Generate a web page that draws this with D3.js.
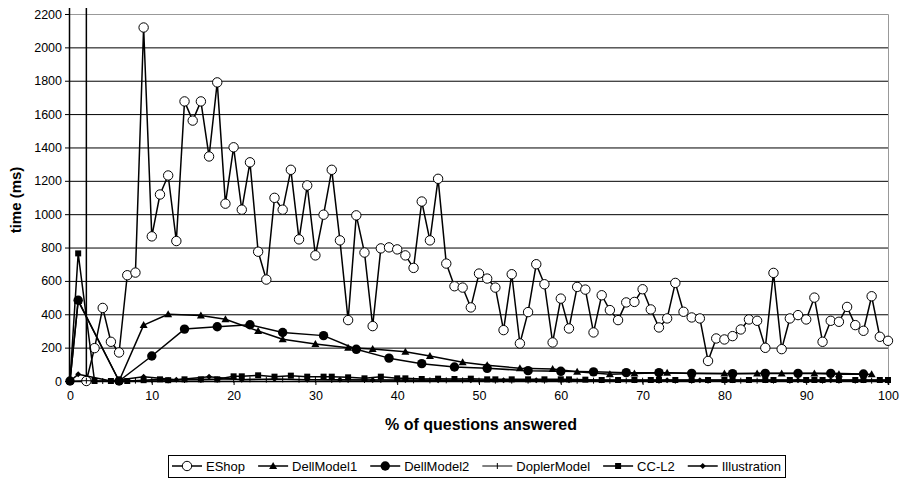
<!DOCTYPE html>
<html lang="en">
<head>
    <meta charset="UTF-8">
    <title>time vs % of questions answered</title>
    <script src="https://d3js.org/d3.v7.min.js"></script>
    <style>
        body { margin: 0; background: #fff; }
        svg { display: block; font-family: "Liberation Sans", Arial, sans-serif; }
        .tick text { font-size: 12.5px; fill: #000; }
        .title { font-weight: bold; fill: #000; }
        .legend text { font-size: 13px; fill: #000; }
    </style>
</head>
<body>
    <svg width="904" height="483"></svg>
    <script>
        // EShop: one point per percent from 2 to 100, plus the spike drawn at x=2
        const eshopX = d3.range(2, 101);
        const eshopVals = [0,197,438,235,171,634,650,2119,867,1118,
            1232,839,1676,1561,1676,1346,1790,1063,1401,1027,
            1311,775,608,1098,1027,1266,849,1172,753,997,
            1266,843,365,993,770,329,795,801,789,753,
            678,1076,843,1212,704,568,560,441,644,614,
            560,305,640,225,413,700,580,231,494,315,
            564,548,291,514,425,365,471,474,550,429,
            321,375,588,415,381,375,120,255,249,269,
            309,369,361,199,648,191,375,395,369,500,
            235,361,355,444,335,301,508,265,241];
        const eshopSpike = [2, 2400];

        const dell1X = [0,1,6,9,12,16,19,23,26,30,34,37,41,44,48,51,55,59,62,66,69,73,76,80,84,87,91,94,98];
        const dell1Vals = [0,480,0,335,400,392,370,300,250,222,199,192,175,150,112,95,76,72,56,40,45,50,45,45,45,45,45,40,40];

        const dell2X = [0,1,6,10,14,18,22,26,31,35,39,43,47,51,56,60,64,68,72,76,81,85,89,93,97];
        const dell2Vals = [0,484,0,150,311,325,337,291,272,190,137,104,84,76,62,58,55,50,50,46,44,46,46,46,42];

        const doplerX = [0,2,4,6,8,10,12,14,16,18,20,22,24,26,28,30,32,34,36,38,40,42,44,46,48,50,
            52,54,56,58,60,62,64,66,68,70,72,74,76,78,80,82,84,86,88,90,92,94,96,98,100];
        const doplerVals = [0,2,0,0,2,4,4,6,6,8,8,10,8,10,8,8,6,6,6,6,4,4,4,4,4,2,
            2,2,2,2,2,2,2,2,2,2,2,2,2,2,2,2,2,2,2,2,2,2,2,2,2];

        const ccX = [0,1,3,5,7,9,11,12,14,16,18,20,21,23,25,27,29,31,32,34,36,38,40,41,43,45,47,49,
            51,52,54,56,58,60,61,63,65,67,69,71,72,74,76,78,80,81,83,85,86,88,90,91,92,94,96,97,99,100];
        const ccVals = [0,765,0,0,0,5,10,5,10,10,10,28,28,34,26,32,26,26,26,22,16,26,16,16,12,14,12,14,
            10,10,10,10,10,10,10,8,6,6,6,6,6,6,6,6,6,6,6,6,6,6,6,6,6,6,6,6,6,6];

        const illX = [0,1,5,9,13,17,21,25,29,33,37,41,45,49,53,57,61,65,69,73,77,81,85,89,93,97,100];
        const illVals = [0,40,0,26,8,26,8,12,8,8,6,6,4,4,4,4,4,4,4,4,4,4,4,4,4,4,4];

        const yTicks = d3.range(0, 2201, 200);
        const xTicks = d3.range(0, 101, 10);

        const svg = d3.select("svg");
        const x = d3.scaleLinear().domain([0, 100]).range([70, 888]);
        const y = d3.scaleLinear().domain([0, 2200]).range([381, 14]);

        // grid lines
        svg.append("g")
            .selectAll("line")
            .data(yTicks.slice(1, -1))
            .enter().append("line")
            .attr("x1", x(0)).attr("x2", x(100))
            .attr("y1", d => y(d) + 0.5).attr("y2", d => y(d) + 0.5)
            .attr("stroke", "#000").attr("stroke-width", 1);

        // plot border top/right (gray)
        svg.append("path")
            .attr("d", `M${x(0)},${y(2200) + 0.5}H${x(100) + 0.5}V${y(0)}`)
            .attr("fill", "none").attr("stroke", "#999");

        // axes
        const yAxis = svg.append("g")
            .attr("transform", `translate(${x(0)},0)`)
            .call(d3.axisLeft(y).tickValues(yTicks).tickFormat(d3.format("d")).tickSize(5).tickPadding(3));
        const xAxis = svg.append("g")
            .attr("transform", `translate(0,${y(0)})`)
            .call(d3.axisBottom(x).tickValues(xTicks).tickFormat(d3.format("d")).tickSize(4).tickPadding(6));
        [yAxis, xAxis].forEach(a => {
            a.select(".domain").attr("stroke", "#000").attr("stroke-width", 1.5);
            a.selectAll(".tick line").attr("stroke", "#000");
            a.attr("font-family", null).attr("font-size", null);
        });
        yAxis.select(".domain").attr("d", `M-0.5,${y(0)}V8`);

        svg.append("text").attr("class", "title")
            .attr("transform", "translate(21,200) rotate(-90)")
            .attr("text-anchor", "middle")
            .style("font-size", "15px")
            .text("time (ms)");
        svg.append("text").attr("class", "title")
            .attr("x", 481).attr("y", 430)
            .attr("text-anchor", "middle")
            .style("font-size", "16px")
            .text("% of questions answered");

        svg.append("defs").append("clipPath").attr("id", "plot")
            .append("rect").attr("x", 60).attr("y", 8).attr("width", 840).attr("height", 385);

        const line = d3.line().x(d => x(d[0])).y(d => y(d[1]));
        const zip = (xs, vs) => xs.map((v, i) => [v, vs[i]]);

        const series = [
            { name: "EShop", pts: [eshopSpike].concat(zip(eshopX, eshopVals)), width: 1.5, marker: "circleOpen" },
            { name: "DellModel1", pts: zip(dell1X, dell1Vals), width: 1.5, marker: "triangle" },
            { name: "DellModel2", pts: zip(dell2X, dell2Vals), width: 1.5, marker: "circle" },
            { name: "DoplerModel", pts: zip(doplerX, doplerVals), width: 1, marker: "plus" },
            { name: "CC-L2", pts: zip(ccX, ccVals), width: 1.5, marker: "square" },
            { name: "Illustration", pts: zip(illX, illVals), width: 1.5, marker: "diamond" }
        ];

        function drawMarker(g, type, cx, cy) {
            if (type === "circleOpen") {
                g.append("circle").attr("cx", cx).attr("cy", cy).attr("r", 4.7)
                    .attr("fill", "#fff").attr("stroke", "#000").attr("stroke-width", 1);
            } else if (type === "circle") {
                g.append("circle").attr("cx", cx).attr("cy", cy).attr("r", 4.7).attr("fill", "#000");
            } else if (type === "triangle") {
                g.append("path").attr("d", `M${cx},${cy - 4}L${cx + 4},${cy + 3}L${cx - 4},${cy + 3}Z`).attr("fill", "#000");
            } else if (type === "square") {
                g.append("rect").attr("x", cx - 3).attr("y", cy - 3).attr("width", 6).attr("height", 6).attr("fill", "#000");
            } else if (type === "diamond") {
                g.append("path").attr("d", `M${cx},${cy - 3}L${cx + 3},${cy}L${cx},${cy + 3}L${cx - 3},${cy}Z`).attr("fill", "#000");
            } else if (type === "plus") {
                g.append("line").attr("x1", cx).attr("x2", cx).attr("y1", cy - 3).attr("y2", cy + 3)
                    .attr("stroke", "#000").attr("stroke-width", 1);
            }
        }

        const plot = svg.append("g").attr("clip-path", "url(#plot)");
        series.forEach(s => {
            const g = plot.append("g");
            g.append("path").attr("d", line(s.pts))
                .attr("fill", "none").attr("stroke", "#000")
                .attr("stroke-width", s.width).attr("stroke-linejoin", "round");
            s.pts.filter(p => p[1] <= 2200).forEach(p => drawMarker(g, s.marker, x(p[0]), y(p[1])));
        });

        // legend: box spans 168..785, items spread evenly inside
        const legendLeft = 168, legendRight = 785, sampleW = 30;
        const legend = svg.append("g").attr("class", "legend").attr("transform", "translate(0,466)");
        const box = legend.append("rect").attr("fill", "#fff").attr("stroke", "#000")
            .attr("x", legendLeft + 0.5).attr("y", -10.5).attr("width", legendRight - legendLeft).attr("height", 22);
        const items = series.map(s => {
            const it = legend.append("g");
            it.append("line").attr("x1", 0).attr("x2", sampleW).attr("y1", 0).attr("y2", 0)
                .attr("stroke", "#000").attr("stroke-width", s.width);
            drawMarker(it, s.marker, sampleW / 2, 0);
            const t = it.append("text").attr("x", sampleW + 4).attr("y", 4.5).text(s.name);
            return { it, w: sampleW + 4 + t.node().getComputedTextLength() };
        });
        const total = d3.sum(items, d => d.w);
        const gap = (legendRight - legendLeft - 8 - total) / (items.length - 1);
        let cx = legendLeft + 4;
        items.forEach(d => {
            d.it.attr("transform", `translate(${cx},0)`);
            cx += d.w + gap;
        });
    </script>
</body>
</html>
